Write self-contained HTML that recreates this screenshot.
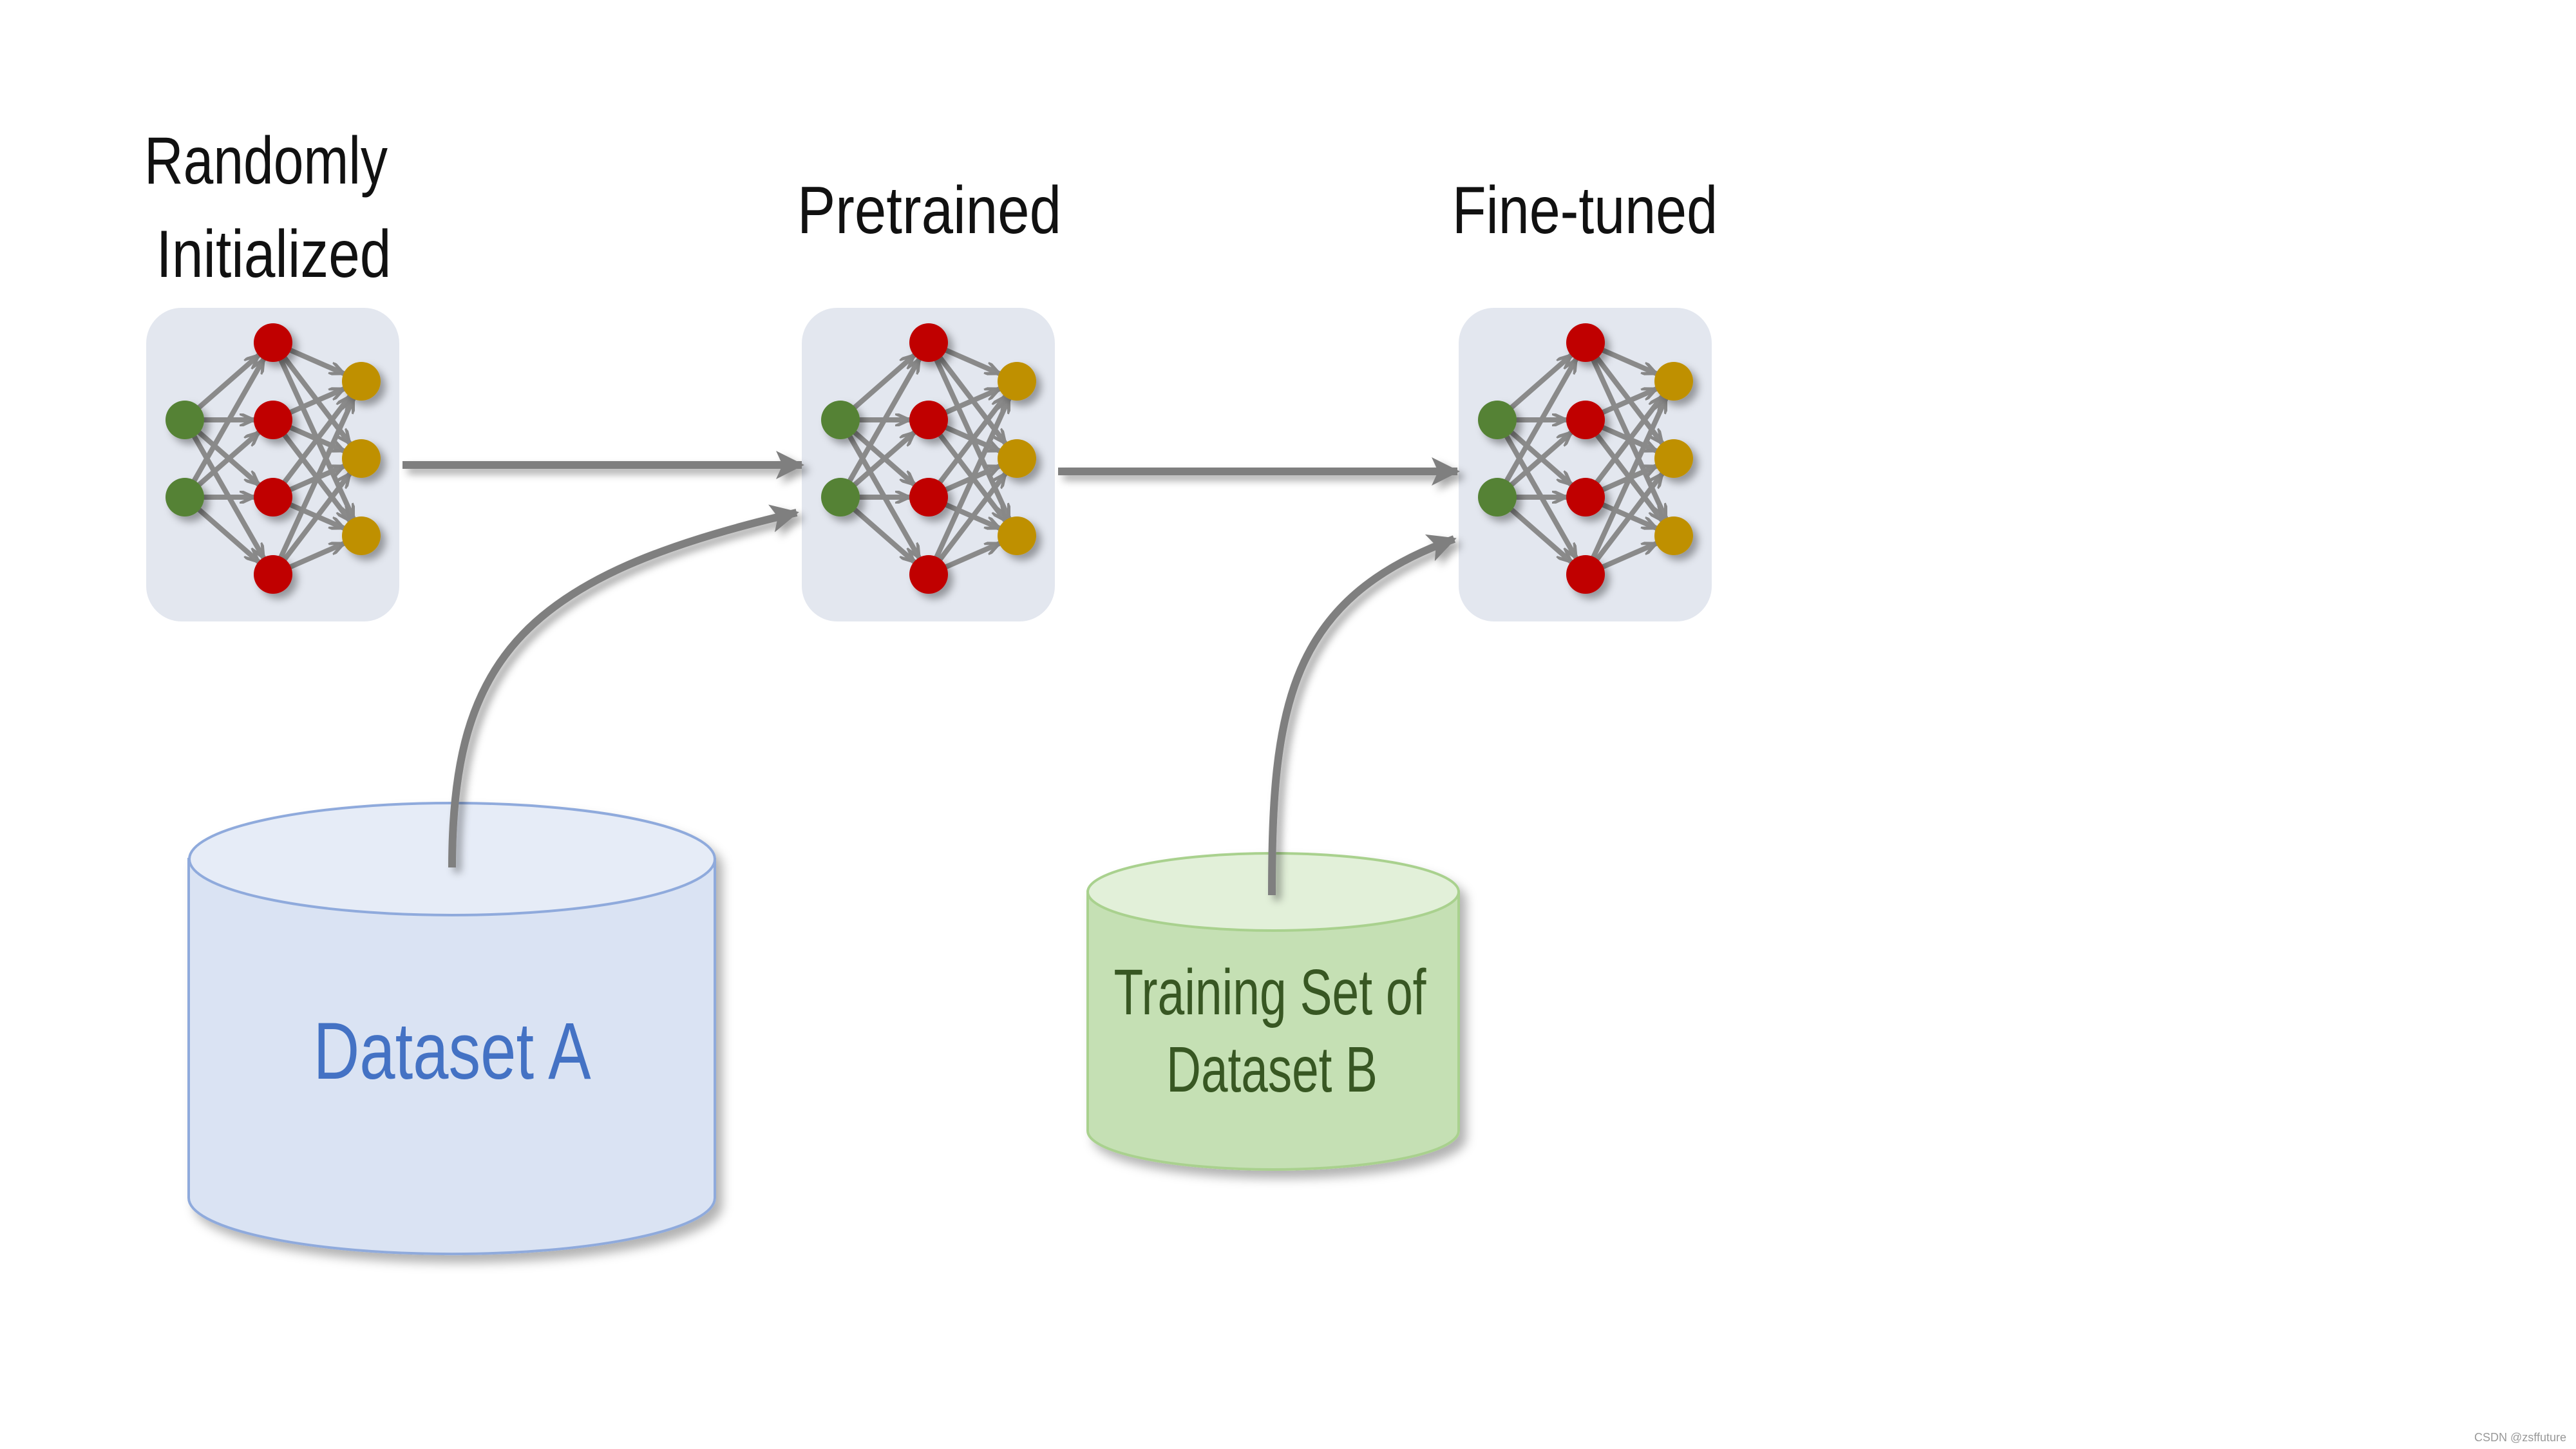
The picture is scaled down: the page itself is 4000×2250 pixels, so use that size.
<!DOCTYPE html>
<html><head><meta charset="utf-8"><style>
html,body{margin:0;padding:0;background:#fff;width:4000px;height:2250px;overflow:hidden}
text{font-family:"Liberation Sans Narrow","Liberation Sans",sans-serif}
</style></head><body>
<svg width="4000" height="2250" viewBox="0 0 4000 2250" xmlns="http://www.w3.org/2000/svg">
<defs>
<filter id="sh" x="-30%" y="-30%" width="160%" height="160%"><feDropShadow dx="8" dy="8" stdDeviation="6" flood-color="#000" flood-opacity="0.35"/></filter>
<filter id="shu" filterUnits="userSpaceOnUse" x="0" y="0" width="4000" height="2250"><feDropShadow dx="8" dy="8" stdDeviation="6" flood-color="#000" flood-opacity="0.35"/></filter>
<filter id="sh2" x="-10%" y="-10%" width="125%" height="125%"><feDropShadow dx="10" dy="12" stdDeviation="8" flood-color="#000" flood-opacity="0.3"/></filter>
<marker id="ah" markerUnits="userSpaceOnUse" markerWidth="24" markerHeight="20" refX="52" refY="10" orient="auto"><path d="M0,0 L22,10 L0,20" fill="none" stroke="#888" stroke-width="5"/></marker>
<marker id="big" markerUnits="userSpaceOnUse" markerWidth="50" markerHeight="44" refX="40" refY="22" orient="auto"><path d="M0,0 L44,22 L0,44 L10,22 z" fill="#7f7f7f"/></marker>
<g id="net">
<rect x="0" y="0" width="393" height="487" rx="55" fill="#e3e7ef"/>
<g stroke="#8a8a8a" stroke-width="8" marker-end="url(#ah)">
<line x1="60" y1="174" x2="197" y2="54"/><line x1="60" y1="174" x2="197" y2="174"/><line x1="60" y1="174" x2="197" y2="294"/><line x1="60" y1="174" x2="197" y2="414"/>
<line x1="60" y1="294" x2="197" y2="54"/><line x1="60" y1="294" x2="197" y2="174"/><line x1="60" y1="294" x2="197" y2="294"/><line x1="60" y1="294" x2="197" y2="414"/>
<line x1="197" y1="54" x2="334" y2="114"/><line x1="197" y1="54" x2="334" y2="234"/><line x1="197" y1="54" x2="334" y2="354"/>
<line x1="197" y1="174" x2="334" y2="114"/><line x1="197" y1="174" x2="334" y2="234"/><line x1="197" y1="174" x2="334" y2="354"/>
<line x1="197" y1="294" x2="334" y2="114"/><line x1="197" y1="294" x2="334" y2="234"/><line x1="197" y1="294" x2="334" y2="354"/>
<line x1="197" y1="414" x2="334" y2="114"/><line x1="197" y1="414" x2="334" y2="234"/><line x1="197" y1="414" x2="334" y2="354"/>
</g>
<g filter="url(#sh)">
<circle cx="60" cy="174" r="30" fill="#548235"/><circle cx="60" cy="294" r="30" fill="#548235"/>
<circle cx="197" cy="54" r="30" fill="#c00000"/><circle cx="197" cy="174" r="30" fill="#c00000"/><circle cx="197" cy="294" r="30" fill="#c00000"/><circle cx="197" cy="414" r="30" fill="#c00000"/>
<circle cx="334" cy="114" r="30" fill="#bf9000"/><circle cx="334" cy="234" r="30" fill="#bf9000"/><circle cx="334" cy="354" r="30" fill="#bf9000"/>
</g>
</g>
</defs>

<text x="413" y="285" font-size="104" text-anchor="middle" fill="#111" textLength="378" lengthAdjust="spacingAndGlyphs">Randomly</text>
<text x="425" y="430" font-size="104" text-anchor="middle" fill="#111" textLength="365" lengthAdjust="spacingAndGlyphs">Initialized</text>
<text x="1443" y="362" font-size="104" text-anchor="middle" fill="#111" textLength="410" lengthAdjust="spacingAndGlyphs">Pretrained</text>
<text x="2461" y="362" font-size="104" text-anchor="middle" fill="#111" textLength="412" lengthAdjust="spacingAndGlyphs">Fine-tuned</text>

<use href="#net" x="227" y="478"/>
<use href="#net" x="1245" y="478"/>
<use href="#net" x="2265" y="478"/>

<g stroke="#7f7f7f" stroke-width="12" fill="none" filter="url(#shu)">
<line x1="625" y1="722" x2="1245" y2="722" marker-end="url(#big)"/>
<line x1="1643" y1="732" x2="2263" y2="732" marker-end="url(#big)"/>
</g>

<!-- Cylinder A -->
<g filter="url(#sh2)">
<path d="M293,1334 L293,1860 A408,87 0 0 0 1110,1860 L1110,1334 Z" fill="#dae3f3" stroke="#8faadc" stroke-width="4"/>
<ellipse cx="702" cy="1334" rx="408" ry="87" fill="#e6ecf7" stroke="#8faadc" stroke-width="4"/>
</g>
<text x="702" y="1675" font-size="125" text-anchor="middle" fill="#4472c4" textLength="431" lengthAdjust="spacingAndGlyphs">Dataset A</text>

<!-- Cylinder B -->
<g filter="url(#sh2)">
<path d="M1689,1385 L1689,1756 A288,60 0 0 0 2265,1756 L2265,1385 Z" fill="#c5e0b4" stroke="#a9d18e" stroke-width="4"/>
<ellipse cx="1977" cy="1385" rx="288" ry="60" fill="#e2f0d9" stroke="#a9d18e" stroke-width="4"/>
</g>
<text x="1972" y="1575" font-size="100" text-anchor="middle" fill="#385723" textLength="485" lengthAdjust="spacingAndGlyphs">Training Set of</text>
<text x="1975" y="1695" font-size="100" text-anchor="middle" fill="#385723" textLength="328" lengthAdjust="spacingAndGlyphs">Dataset B</text>

<g stroke="#7f7f7f" stroke-width="12" fill="none" filter="url(#shu)">
<path d="M702,1347 C702,1020 816,893 1237,796" marker-end="url(#big)"/>
<path d="M1975,1390 C1975,1100 2000,930 2258,837" marker-end="url(#big)"/>
</g>

<text x="3985" y="2238" font-size="18" text-anchor="end" fill="#999">CSDN @zsffuture</text>
</svg>
</body></html>
